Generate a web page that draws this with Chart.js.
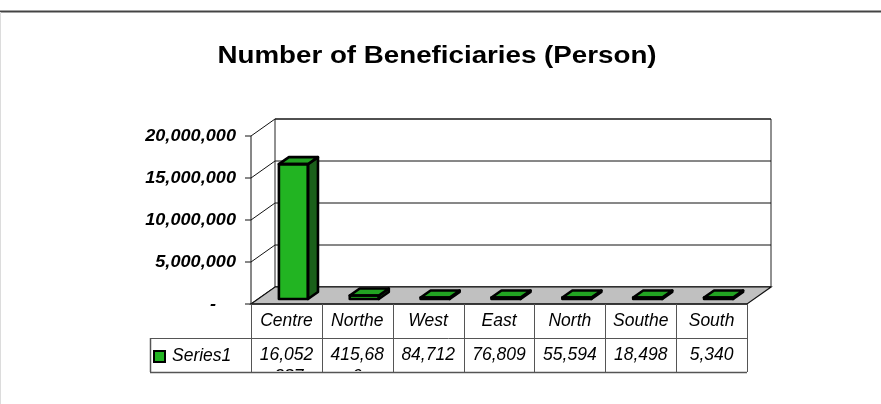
<!DOCTYPE html>
<html>
<head>
<meta charset="utf-8">
<title>Number of Beneficiaries (Person)</title>
<script src="https://cdn.jsdelivr.net/npm/chart.js@4/dist/chart.umd.min.js"></script>
<style>
  html, body { margin: 0; padding: 0; background: #fff; }
  #wrap { width: 881px; height: 404px; }
</style>
</head>
<body>
<div id="wrap"><canvas id="benChart" width="881" height="404"></canvas></div>
<script>
// data
const regions = ['Centre', 'Northeast', 'West', 'East', 'North', 'Southeast', 'South'];
const beneficiaries = [16052387, 415689, 84712, 76809, 55594, 18498, 5340];
const tickValues = [0, 5000000, 10000000, 15000000, 20000000];
const tickLabels = ['-', '5,000,000', '10,000,000', '15,000,000', '20,000,000'];
const seriesName = 'Series1';
const chartTitle = 'Number of Beneficiaries (Person)';

// depth offsets of the fake 3D box relative to the bar plane
const FRONT = { dx: -7, dy: 5 };
const BACK = { dx: 17, dy: -12 };
const BAR_DEPTH = { dx: 10, dy: -7 };
const FONT = '"Liberation Sans", Arial, sans-serif';

function poly(ctx, pts, fill, stroke, lw) {
    ctx.beginPath();
    ctx.moveTo(pts[0][0], pts[0][1]);
    for (let i = 1; i < pts.length; i++) ctx.lineTo(pts[i][0], pts[i][1]);
    ctx.closePath();
    if (fill) { ctx.fillStyle = fill; ctx.fill(); }
    if (stroke) { ctx.strokeStyle = stroke; ctx.lineWidth = lw || 1; ctx.stroke(); }
}

function line(ctx, x1, y1, x2, y2, color, lw) {
    ctx.beginPath();
    ctx.moveTo(x1, y1);
    ctx.lineTo(x2, y2);
    ctx.strokeStyle = color;
    ctx.lineWidth = lw || 1;
    ctx.stroke();
}

// excel draws its fonts a bit wider, so stretch horizontally
function stretchText(ctx, text, x, y, sx) {
    ctx.save();
    ctx.translate(x, y);
    ctx.scale(sx, 1);
    ctx.fillText(text, 0, 0);
    ctx.restore();
}

// excel-like char wrap, returns lines
function wrapText(ctx, text, maxW) {
    const lines = [];
    let cur = '';
    for (const ch of text) {
        if (cur && ctx.measureText(cur + ch).width > maxW) {
            lines.push(cur);
            cur = ch;
        } else {
            cur += ch;
        }
    }
    if (cur) lines.push(cur);
    return lines;
}

const box3d = {
    id: 'box3d',
    beforeDatasetsDraw(chart) {
        const ctx = chart.ctx;
        const a = chart.chartArea;
        const y = chart.scales.y;
        const y0 = y.getPixelForValue(0);
        const yMax = y.getPixelForValue(tickValues[tickValues.length - 1]);
        ctx.save();

        // outer frame bits
        line(ctx, 0, 11.5, 881, 11.5, '#444', 2);
        line(ctx, 0.5, 12, 0.5, 404, '#dcdcdc', 1);

        // back wall
        poly(ctx, [
            [a.left + BACK.dx, yMax + BACK.dy], [a.right + BACK.dx, yMax + BACK.dy],
            [a.right + BACK.dx, y0 + BACK.dy], [a.left + BACK.dx, y0 + BACK.dy]
        ], '#fff', '#222', 1);

        tickValues.forEach(v => {
            const py = y.getPixelForValue(v);
            line(ctx, a.left + BACK.dx, py + BACK.dy, a.right + BACK.dx, py + BACK.dy, '#111', 1);
            line(ctx, a.left + FRONT.dx, py + FRONT.dy, a.left + BACK.dx, py + BACK.dy, '#111', 1);
            line(ctx, a.left + FRONT.dx - 6, py + FRONT.dy, a.left + FRONT.dx, py + FRONT.dy, '#111', 1);
        });

        // front axis line
        line(ctx, a.left + FRONT.dx, yMax + FRONT.dy, a.left + FRONT.dx, y0 + FRONT.dy, '#111', 1);

        // floor
        poly(ctx, [
            [a.left + FRONT.dx, y0 + FRONT.dy], [a.right + FRONT.dx, y0 + FRONT.dy],
            [a.right + BACK.dx, y0 + BACK.dy], [a.left + BACK.dx, y0 + BACK.dy]
        ], '#c0c0c0', '#111', 1.2);

        // axis labels
        ctx.font = 'italic bold 16.5px ' + FONT;
        ctx.fillStyle = '#000';
        ctx.textAlign = 'right';
        ctx.textBaseline = 'middle';
        tickValues.forEach((v, i) => {
            const py = y.getPixelForValue(v) + FRONT.dy;
            const pad = v === 0 ? 20 : 0;
            stretchText(ctx, tickLabels[i], a.left + FRONT.dx - 15 - pad, py, 1.1);
        });
        ctx.restore();
    },
    afterDatasetsDraw(chart) {
        const ctx = chart.ctx;
        const meta = chart.getDatasetMeta(0);
        ctx.save();
        ctx.lineJoin = 'round';
        meta.data.forEach(bar => {
            const p = bar.getProps(['x', 'y', 'base', 'width'], true);
            const x1 = p.x - p.width / 2, x2 = p.x + p.width / 2;
            const top = Math.min(p.y, p.base - 1.5);
            poly(ctx, [
                [x2, top], [x2 + BAR_DEPTH.dx, top + BAR_DEPTH.dy],
                [x2 + BAR_DEPTH.dx, p.base + BAR_DEPTH.dy], [x2, p.base]
            ], '#1a601a', '#000', 2.6);
            poly(ctx, [
                [x1, top], [x2, top],
                [x2 + BAR_DEPTH.dx, top + BAR_DEPTH.dy], [x1 + BAR_DEPTH.dx, top + BAR_DEPTH.dy]
            ], '#22a322', '#000', 2.6);
            ctx.strokeStyle = '#000';
            ctx.lineWidth = 2.6;
            ctx.strokeRect(x1, top, p.width, p.base - top);
        });
        ctx.restore();
    },
    afterDraw(chart) {
        const ctx = chart.ctx;
        const a = chart.chartArea;
        const xs = chart.scales.x;
        const y0 = chart.scales.y.getPixelForValue(0) + FRONT.dy;
        const n = regions.length;
        const cw = (a.right - a.left) / n;
        const rowTop = y0, rowMid = y0 + 34, rowBot = y0 + 68;
        const labelLeft = 150;
        const tLeft = a.left + FRONT.dx, tRight = a.right + FRONT.dx;
        ctx.save();

        // title
        ctx.font = 'bold 23.5px ' + FONT;
        ctx.fillStyle = '#000';
        ctx.textAlign = 'center';
        ctx.textBaseline = 'alphabetic';
        stretchText(ctx, chartTitle, 437, 63, 1.18);

        // table grid
        const gc = '#555';
        line(ctx, tLeft, rowTop, tRight, rowTop, '#222', 1.5);
        line(ctx, labelLeft, rowMid + 0.5, tRight, rowMid + 0.5, gc, 1);
        line(ctx, labelLeft, rowBot + 0.5, tRight, rowBot + 0.5, gc, 1.5);
        line(ctx, labelLeft + 0.5, rowMid, labelLeft + 0.5, rowBot, gc, 1.5);
        for (let i = 0; i <= n; i++) {
            const gx = Math.round(tLeft + i * cw) + 0.5;
            line(ctx, gx, rowTop, gx, rowBot, gc, 1);
        }

        // legend key + series name
        ctx.fillStyle = '#000';
        ctx.fillRect(labelLeft + 3, rowMid + 12, 13, 13);
        ctx.fillStyle = '#22b422';
        ctx.fillRect(labelLeft + 5, rowMid + 14, 9, 9);
        ctx.font = 'italic 17.5px ' + FONT;
        ctx.fillStyle = '#000';
        ctx.textAlign = 'left';
        ctx.textBaseline = 'middle';
        ctx.fillText(seriesName, labelLeft + 22, rowMid + 18);

        // category + value cells (wrapped text, overflow hidden like excel)
        ctx.textAlign = 'center';
        regions.forEach((name, i) => {
            const cx = xs.getPixelForValue(i) + FRONT.dx;
            const cl = cx - cw / 2;
            const cells = [
                [name, rowTop, rowMid, 24],
                [beneficiaries[i].toLocaleString('en-US'), rowMid, rowBot, 22]
            ];
            cells.forEach(([txt, t, b, lh]) => {
                const lines = wrapText(ctx, txt, cw - 14);
                ctx.save();
                ctx.beginPath();
                ctx.rect(cl + 1, t + 1, cw - 2, b - t - 2);
                ctx.clip();
                lines.forEach((ln, k) => {
                    ctx.fillText(ln, cx, (t + b) / 2 + k * lh);
                });
                ctx.restore();
            });
        });
        ctx.restore();
    }
};

new Chart(document.getElementById('benChart'), {
    type: 'bar',
    data: {
        labels: regions,
        datasets: [{
            label: seriesName,
            data: beneficiaries,
            backgroundColor: '#22b422',
            borderColor: '#000',
            borderWidth: 0,
            categoryPercentage: 1,
            barPercentage: 0.41
        }]
    },
    options: {
        responsive: false,
        animation: false,
        layout: { padding: { left: 258, right: 127, top: 131, bottom: 105 } },
        scales: {
            x: { display: false },
            y: { display: false, min: 0, max: 20000000 }
        },
        plugins: {
            legend: { display: false },
            tooltip: { enabled: false }
        }
    },
    plugins: [box3d]
});
</script>
</body>
</html>
